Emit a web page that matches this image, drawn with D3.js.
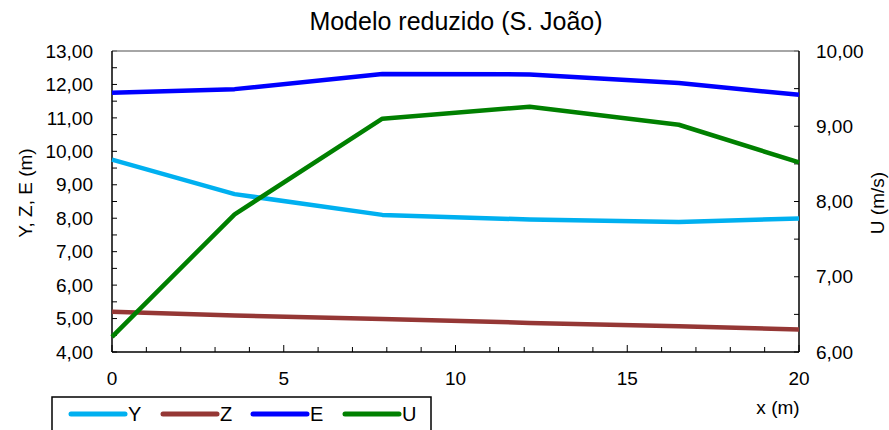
<!DOCTYPE html>
<html><head><meta charset="utf-8">
<script src="https://cdn.jsdelivr.net/npm/d3@7"></script>
<style>body{margin:0;background:#fff}svg{display:block;font-family:"Liberation Sans",Arial,sans-serif}</style>
</head><body><svg id="c" width="889" height="430"></svg>
<script>
const xValues = [0, 3.57, 7.87, 12.16, 16.5, 20];
const yValues = [9.75, 8.72, 8.10, 7.96, 7.89, 7.99];
const zValues = [5.20, 5.09, 4.99, 4.87, 4.77, 4.67];
const eValues = [11.75, 11.86, 12.31, 12.30, 12.04, 11.69];
const uValues = [6.20, 7.83, 9.10, 9.26, 9.02, 8.52];
const seriesNames = ["Y", "Z", "E", "U"];
const seriesColors = ["#00B0F0", "#953735", "#0000FF", "#008000"];
const leftTicks = [4,5,6,7,8,9,10,11,12,13];
const rightTicks = [6,7,8,9,10];
const xTicks = [0,5,10,15,20];

const svg = d3.select("#c");
const L = 112, R = 799, T = 51, B = 352;
const x = d3.scaleLinear().domain([0,20]).range([L,R]);
const yL = d3.scaleLinear().domain([4,13]).range([B,T]);
const yR = d3.scaleLinear().domain([6,10]).range([B,T]);
const fmt = d => d3.format(".2f")(d).replace(".", ",");

// minor ticks
const g = svg.append("g");
d3.range(4, 13.01, 0.5).forEach(v => {
  g.append("line").attr("x1", L).attr("x2", L+5).attr("y1", yL(v)).attr("y2", yL(v)).attr("stroke","#000").attr("stroke-width",1);
});
d3.range(6, 10.01, 0.5).forEach(v => {
  g.append("line").attr("x1", R).attr("x2", R-5).attr("y1", yR(v)).attr("y2", yR(v)).attr("stroke","#000").attr("stroke-width",1);
});
d3.range(0, 20.01, 1).forEach(v => {
  const major = v % 5 === 0;
  g.append("line").attr("x1", x(v)).attr("x2", x(v)).attr("y1", B).attr("y2", B-(major?7:5)).attr("stroke","#000").attr("stroke-width",1);
});
// frame
svg.append("line").attr("x1",L).attr("x2",R).attr("y1",T).attr("y2",T).attr("stroke","#888").attr("stroke-width",1.5);
svg.append("line").attr("x1",L).attr("x2",L).attr("y1",T).attr("y2",B).attr("stroke","#000").attr("stroke-width",1.5);
svg.append("line").attr("x1",R).attr("x2",R).attr("y1",T).attr("y2",B).attr("stroke","#000").attr("stroke-width",1.5);
svg.append("line").attr("x1",L).attr("x2",R).attr("y1",B).attr("y2",B).attr("stroke","#000").attr("stroke-width",1.5);

// tick labels
leftTicks.forEach(v => svg.append("text").attr("x", 93).attr("y", yL(v)).attr("dy","0.35em").attr("text-anchor","end").attr("font-size",19).text(fmt(v)));
rightTicks.forEach(v => svg.append("text").attr("x", 816).attr("y", yR(v)).attr("dy","0.35em").attr("text-anchor","start").attr("font-size",19).text(fmt(v)));
xTicks.forEach(v => svg.append("text").attr("x", x(v)).attr("y", 378).attr("dy","0.35em").attr("text-anchor","middle").attr("font-size",19).text(v));

// titles
svg.append("text").attr("x", 456).attr("y", 30).attr("text-anchor","middle").attr("font-size",25).text("Modelo reduzido (S. João)");
svg.append("text").attr("transform","translate(32,193) rotate(-90)").attr("text-anchor","middle").attr("font-size",19).text("Y, Z, E (m)");
svg.append("text").attr("transform","translate(884,203) rotate(-90)").attr("text-anchor","middle").attr("font-size",19).text("U (m/s)");
svg.append("text").attr("x", 778).attr("y", 407).attr("dy","0.35em").attr("text-anchor","middle").attr("font-size",19).text("x (m)");

// lines
const data = [yValues, zValues, eValues, uValues];
const scales = [yL, yL, yL, yR];
data.forEach((vals, i) => {
  const line = d3.line().x((d,j) => x(xValues[j])).y(d => scales[i](d));
  svg.append("path").datum(vals).attr("d", line).attr("fill","none").attr("stroke", seriesColors[i]).attr("stroke-width",4.5).attr("stroke-linejoin","round");
});

// legend
svg.append("rect").attr("x",52).attr("y",397).attr("width",379).attr("height",40).attr("fill","#fff").attr("stroke","#000").attr("stroke-width",1.5);
const lx = [71, 163, 253, 345];
seriesNames.forEach((n,i) => {
  svg.append("line").attr("x1", lx[i]).attr("x2", lx[i]+54).attr("y1",414).attr("y2",414).attr("stroke",seriesColors[i]).attr("stroke-width",5).attr("stroke-linecap","round");
  svg.append("text").attr("x", lx[i]+57).attr("y",414).attr("dy","0.35em").attr("font-size",20).text(n);
});
</script></body></html>
